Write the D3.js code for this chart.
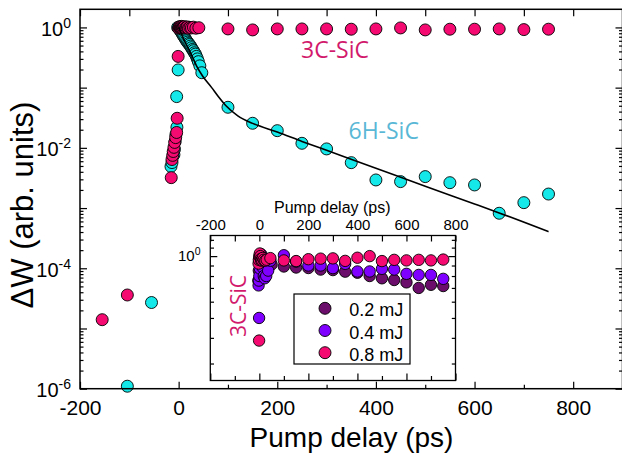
<!DOCTYPE html>
<html>
<head>
<meta charset="utf-8">
<script src="https://cdn.jsdelivr.net/npm/d3@7/dist/d3.min.js"></script>
<style>
  html, body { margin: 0; padding: 0; background: #fff; }
  svg { display: block; }
  text { font-family: "Liberation Sans", Arial, Helvetica, sans-serif; }
  .tag { font-family: "Open Sans", "Noto Sans", sans-serif; }
</style>
</head>
<body>
<svg id="chart" width="622" height="456"></svg>
<script>
// ---------------- data ----------------
// Main panel: normalised change of W versus pump delay (ps)
const sic3cDelay = [-155, -104, -15, -13.5, -12, -11, -9.5, -8, -6, -4, -3, -1,
  0, 1, 2, 3, 4, 5, 6, 7, 8, 9, 10, 12, 14, 16, 18, 20, 23, 26, 30, 35, 41,
  100, 150, 200, 250, 300, 350, 400, 450, 500, 550, 600, 650, 700, 750];
const sic3cSignal = [1.4e-5, 3.6e-5, 3.2e-3, 6.4e-3, 7.5e-3, 8.7e-3, 1.02e-2, 1.23e-2, 1.48e-2, 1.8e-2, 3.1e-2, 0.33,
  0.97, 1.0, 1.03, 0.99, 1.02, 0.98, 1.04, 1.0, 0.97, 1.01, 0.99, 1.03, 0.98, 1.0, 1.02, 0.97, 1.0, 0.98, 1.01, 0.97, 0.99,
  0.944, 0.909, 0.944, 0.944, 0.944, 0.934, 0.944, 0.981, 0.909, 0.934, 0.934, 0.944, 0.92, 0.934];

const sic6hDelay = [-104, -55, -15.5, -13.5, -9.5, -8.5, -7, -5.5, -3.5, -4, -1,
  -2, 0, 2, 4, 6, 8, 10, 12, 14, 16, 18, 20, 22, 24, 26, 28, 30, 32, 34, 36, 38, 40, 43, 47,
  100, 150, 200, 250, 300, 350, 400, 450, 500, 550, 600, 650, 700, 750];
const sic6hSignal = [1.1e-6, 2.7e-5, 4.9e-3, 5.7e-3, 7.7e-3, 9.4e-3, 1.28e-2, 1.66e-2, 2.2e-2, 0.071, 0.197,
  1.0, 0.97, 0.92, 0.87, 0.82, 0.77, 0.72, 0.68, 0.64, 0.6, 0.57, 0.54, 0.52, 0.49, 0.46, 0.43, 0.41, 0.38, 0.36, 0.33, 0.3, 0.27, 0.23, 0.177,
  0.0472, 0.0256, 0.0193, 0.0119, 0.0096, 0.00568, 0.00293, 0.00275, 0.00333, 0.00264, 0.00242, 0.00082, 0.00123, 0.00171];

// Fitted decay curve for 6H-SiC
const fitDelay = [0, 5, 10, 19.5, 28, 36.5, 50, 67, 80, 96, 120, 150, 200, 250, 300, 400, 500, 600, 650, 750];
const fitSignal = [1.0, 0.80, 0.645, 0.451, 0.325, 0.227, 0.15, 0.10, 0.072, 0.05, 0.034, 0.0255, 0.0183, 0.0128, 0.0091, 0.0046, 0.0023, 0.00117, 0.00083, 0.000405];

// Inset: 3C-SiC at three pump energies
const e02Delay = [-4, -2, 0, 2, 4, 6, 8, 10, 14, 18, 24, 30, 40, 50,
  100, 150, 200, 250, 300, 350, 400, 450, 500, 550, 600, 650, 700, 750];
const e02Signal = [0.76, 0.85, 0.97, 1.0, 1.01, 0.99, 0.97, 0.95, 0.93, 0.92, 0.90, 0.89, 0.90, 0.91,
  0.89, 0.88, 0.875, 0.86, 0.855, 0.84, 0.83, 0.80, 0.78, 0.765, 0.745, 0.70, 0.725, 0.715];

const e04Delay = [-1, -3, -2, 0, 2, 4, 6, 8, 10, 14, 18, 22, 28, 36, 45,
  100, 150, 200, 250, 300, 350, 400, 450, 500, 550, 600, 650, 700, 750];
const e04Signal = [0.5, 0.72, 0.76, 0.8, 0.87, 0.94, 0.99, 1.02, 1.0, 0.88, 0.8, 0.78, 0.8, 0.85, 0.95,
  1.01, 0.94, 0.90, 0.90, 0.874, 0.917, 0.842, 0.842, 0.867, 0.86, 0.82, 0.81, 0.81, 0.775];

const e08Delay = [-1, -3, -2, 0, 2, 4, 6, 8, 10, 14, 18, 24, 30, 45,
  100, 150, 200, 250, 300, 350, 400, 450, 500, 550, 600, 650, 700, 750];
const e08Signal = [0.388, 0.92, 0.96, 1.0, 1.03, 1.0, 0.97, 0.95, 0.96, 0.98, 0.96, 0.95, 0.96, 0.978,
  0.953, 0.946, 0.966, 0.972, 0.975, 0.948, 0.982, 1.0, 0.946, 0.959, 0.953, 0.959, 0.953, 0.962];

const energyLabels = ["0.2 mJ", "0.4 mJ", "0.8 mJ"];

// Tick labels
const xTickLabels = [-200, 0, 200, 400, 600, 800];
const xMinorTicks = [-100, 100, 300, 500, 700];
const yLabelExponents = [0, -2, -4, -6];
const insetTickLabels = [-200, 0, 200, 400, 600, 800];

// ---------------- styling ----------------
const PINK = "#f50a72", CYAN = "#14e8e8", PLUM = "#6b0d6b", VIOLET = "#8000ff";
const TAG_PINK = "#d21a6c", TAG_BLUE = "#5ab8d6";

const svg = d3.select("#chart");

// helpers for tick positions
const decades = (lo, hi) => d3.range(lo, hi + 1).map(e => Math.pow(10, e));
const minorLog = (lo, hi) => {
  const v = [];
  for (let e = lo; e < hi; e++) for (let k = 2; k <= 9; k++) v.push(k * Math.pow(10, e));
  return v;
};
function drawAxis(g, axis) {
  g.call(axis);
  g.select(".domain").remove();
  g.attr("font-family", null).attr("font-size", null);
  g.selectAll("line").attr("stroke", "#000").attr("stroke-width", 1.2);
  return g;
}

// ---------------- main panel ----------------
const x = d3.scaleLinear().domain([-200, 900]).range([80, 622.5]);
const y = d3.scaleLog().domain([1e-6, 2]).range([388.7, 9.3]);
const [X0, X1] = x.range(), [Y0, Y1] = y.range();

// bottom axis
drawAxis(svg.append("g").attr("transform", `translate(0,${Y0})`),
  d3.axisBottom(x).tickValues(xTickLabels).tickSize(-7).tickPadding(11.5).tickFormat(d => String(d)))
  .selectAll("text").attr("font-size", 21);
drawAxis(svg.append("g").attr("transform", `translate(0,${Y0})`),
  d3.axisBottom(x).tickValues(xMinorTicks).tickSize(-4).tickFormat(""));
// top axis
drawAxis(svg.append("g").attr("transform", `translate(0,${Y1})`),
  d3.axisTop(x).tickValues(xTickLabels.concat(xMinorTicks, [900])).tickSize(-7).tickFormat(""));
// left / right log axes
[["left", X0], ["right", X1]].forEach(([side, px]) => {
  const mk = side === "left" ? d3.axisLeft : d3.axisRight;
  drawAxis(svg.append("g").attr("transform", `translate(${px},0)`),
    mk(y).tickValues(decades(-6, 0)).tickSize(-7).tickFormat(""));
  drawAxis(svg.append("g").attr("transform", `translate(${px},0)`),
    mk(y).tickValues(minorLog(-6, 0)).tickSize(-3.5).tickFormat(""));
});

// decade labels with superscript exponents
yLabelExponents.forEach(e => {
  const t = svg.append("text")
    .attr("x", 71).attr("y", y(Math.pow(10, e)) + 8.5)
    .attr("text-anchor", "end").attr("font-size", 20);
  t.append("tspan").text("10");
  t.append("tspan").attr("font-size", 14).attr("dy", -8).text(String(e));
});

// axis titles
svg.append("text").attr("x", 351.5).attr("y", 447).attr("text-anchor", "middle")
  .attr("font-size", 28).text("Pump delay (ps)");
svg.append("text").attr("transform", "translate(33,205) rotate(-90)").attr("text-anchor", "middle")
  .attr("font-size", 31).text("ΔW (arb. units)");

// markers
function scatter(g, xs, ys, delays, values, color, r) {
  g.append("g").selectAll("circle").data(delays.map((d, i) => [d, values[i]]))
    .join("circle")
    .attr("cx", d => xs(d[0])).attr("cy", d => ys(d[1])).attr("r", r)
    .attr("fill", color).attr("stroke", "#000").attr("stroke-width", 0.9);
}
scatter(svg, x, y, sic6hDelay, sic6hSignal, CYAN, 6);
scatter(svg, x, y, sic3cDelay, sic3cSignal, PINK, 6);

// fitted curve
svg.append("path")
  .datum(fitDelay.map((d, i) => [d, fitSignal[i]]))
  .attr("fill", "none").attr("stroke", "#000").attr("stroke-width", 1.6)
  .attr("d", d3.line().x(d => x(d[0])).y(d => y(d[1])).curve(d3.curveMonotoneX));

// sample tags
svg.append("text").attr("class", "tag").attr("x", 301).attr("y", 58.3)
  .attr("font-size", 23).attr("fill", TAG_PINK).text("3C-SiC");
svg.append("text").attr("class", "tag").attr("x", 348.5).attr("y", 139.3)
  .attr("font-size", 23).attr("fill", TAG_BLUE).text("6H-SiC");

// frame
svg.append("rect").attr("x", X0).attr("y", Y1).attr("width", X1 - X0).attr("height", Y0 - Y1)
  .attr("fill", "none").attr("stroke", "#000").attr("stroke-width", 1.5);

// ---------------- inset ----------------
const ix = d3.scaleLinear().domain([-200, 800]).range([210.3, 455.5]);
const iy = d3.scaleLog().domain([0.248, 1.26]).range([380.5, 235.5]);
const [IX0, IX1] = ix.range(), [IY0, IY1] = iy.range();
const inset = svg.append("g");

inset.append("rect").attr("x", IX0).attr("y", IY1).attr("width", IX1 - IX0).attr("height", IY0 - IY1)
  .attr("fill", "#fff");

drawAxis(inset.append("g").attr("transform", `translate(0,${IY0})`),
  d3.axisBottom(ix).tickValues(insetTickLabels).tickSize(-7).tickFormat(""));
drawAxis(inset.append("g").attr("transform", `translate(0,${IY0})`),
  d3.axisBottom(ix).tickValues([-100, 100, 300, 500, 700]).tickSize(-4.5).tickFormat(""));
drawAxis(inset.append("g").attr("transform", `translate(0,${IY1})`),
  d3.axisTop(ix).tickValues(d3.range(-200, 801, 100)).tickSize(-6).tickPadding(5.5)
    .tickFormat(d => insetTickLabels.includes(d) ? String(d) : ""))
  .selectAll("text").attr("font-size", 15);
const insetMinor = [1.2, 1.1, 0.9, 0.8, 0.7, 0.6, 0.5, 0.4, 0.3];
[[d3.axisLeft, IX0], [d3.axisRight, IX1]].forEach(([mk, px]) => {
  drawAxis(inset.append("g").attr("transform", `translate(${px},0)`),
    mk(iy).tickValues([1]).tickSize(-7).tickFormat(""));
  drawAxis(inset.append("g").attr("transform", `translate(${px},0)`),
    mk(iy).tickValues(insetMinor).tickSize(-3.7).tickFormat(""));
});
{
  const t = inset.append("text").attr("x", 200.5).attr("y", iy(1) + 4.5)
    .attr("text-anchor", "end").attr("font-size", 15);
  t.append("tspan").text("10");
  t.append("tspan").attr("font-size", 10.5).attr("dy", -6).text("0");
}
inset.append("text").attr("x", 332.3).attr("y", 213.3).attr("text-anchor", "middle")
  .attr("font-size", 16).text("Pump delay (ps)");

scatter(inset, ix, iy, e02Delay, e02Signal, PLUM, 5.7);
scatter(inset, ix, iy, e04Delay, e04Signal, VIOLET, 5.7);
scatter(inset, ix, iy, e08Delay, e08Signal, PINK, 5.7);

inset.append("text").attr("class", "tag").attr("transform", "translate(246,306) rotate(-90)")
  .attr("text-anchor", "middle").attr("font-size", 21).attr("fill", TAG_PINK).text("3C-SiC");

// legend
const legend = inset.append("g");
legend.append("rect").attr("x", 294).attr("y", 294).attr("width", 116).attr("height", 70)
  .attr("fill", "#fff").attr("stroke", "#000").attr("stroke-width", 1.2);
const legendY = d3.scalePoint().domain(energyLabels).range([308.3, 352.7]);
const energyColor = d3.scaleOrdinal().domain(energyLabels).range([PLUM, VIOLET, PINK]);
energyLabels.forEach(lbl => {
  legend.append("circle").attr("cx", 325).attr("cy", legendY(lbl)).attr("r", 6)
    .attr("fill", energyColor(lbl)).attr("stroke", "#000").attr("stroke-width", 0.9);
  legend.append("text").attr("x", 349.3).attr("y", legendY(lbl) + 8)
    .attr("font-size", 18).text(lbl);
});

inset.append("rect").attr("x", IX0).attr("y", IY1).attr("width", IX1 - IX0).attr("height", IY0 - IY1)
  .attr("fill", "none").attr("stroke", "#000").attr("stroke-width", 1.3);
</script>
</body>
</html>
